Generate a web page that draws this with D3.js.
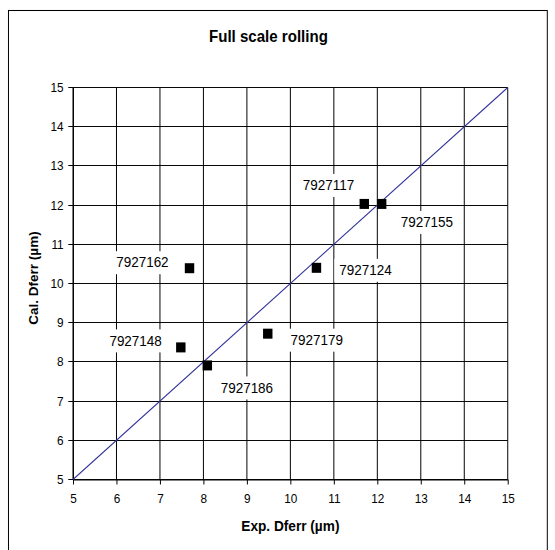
<!DOCTYPE html>
<html>
<head>
<meta charset="utf-8">
<script src="https://cdn.jsdelivr.net/npm/d3@7"></script>
<style>
  html, body { margin: 0; padding: 0; background: #fff; }
  svg { display: block; font-family: "Liberation Sans", Arial, sans-serif; }
</style>
</head>
<body>
<svg id="chart" width="555" height="550"></svg>
<script>
// ---- data ----
const sampleIds = ["7927117", "7927155", "7927162", "7927124", "7927148", "7927179", "7927186"];
const expDferr  = [11.70, 12.10, 7.68, 10.60, 7.48, 9.48, 8.09];
const calDferr  = [12.03, 12.03, 10.39, 10.40, 8.37, 8.72, 7.91];
const lineX = [5, 15];
const lineY = [5, 15];
const tickValues = [5, 6, 7, 8, 9, 10, 11, 12, 13, 14, 15];
const titleText = "Full scale rolling";
const xTitle = "Exp. Dferr (µm)";
const yTitle = "Cal. Dferr (µm)";

// ---- layout (label offsets in px, relative to marker) ----
const labelOffsets = [[-38, -19], [48, 18], [-50, -6], [52, 2], [-48, -7], [52, 6], [42, 22]];

const svgRoot = d3.select("#chart");
// the chart is laid out on a slightly wider canvas and squeezed horizontally to 555px
const squeeze = 0.942;
const svg = svgRoot.append("g").attr("transform", `scale(${squeeze},1)`);

const pLeft = 77.5, pRight = 539, pTop = 87.5, pBottom = 479.5;

const x = d3.scaleLinear().domain([5, 15]).range([pLeft, pRight]);
const y = d3.scaleLinear().domain([5, 15]).range([pBottom, pTop]);

// outer chart border
svg.append("rect")
  .attr("x", 9).attr("y", 10.5).attr("width", 572).attr("height", 560)
  .attr("fill", "#fff").attr("stroke", "#000").attr("stroke-width", 1.05);

// title
svg.append("text")
  .attr("x", 285).attr("y", 42.5)
  .attr("text-anchor", "middle")
  .attr("font-size", 16).attr("font-weight", "bold")
  .text(titleText);

// gridlines
const grid = svg.append("g");
grid.selectAll("line.vx").data(tickValues).enter().append("line")
  .attr("x1", d => x(d)).attr("x2", d => x(d))
  .attr("y1", pTop).attr("y2", pBottom)
  .attr("stroke", "#000").attr("stroke-width", 1.05);
grid.selectAll("line.hy").data(tickValues).enter().append("line")
  .attr("shape-rendering", "crispEdges")
  .attr("y1", d => Math.round(y(d) - 0.5) + 0.5).attr("y2", d => Math.round(y(d) - 0.5) + 0.5)
  .attr("x1", pLeft).attr("x2", pRight)
  .attr("stroke", "#000").attr("stroke-width", 1);

// axes
const xAxis = d3.axisBottom(x).tickValues(tickValues).tickSize(5).tickSizeOuter(0).tickPadding(10).tickFormat(d3.format("d"));
const yAxis = d3.axisLeft(y).tickValues(tickValues).tickSize(5).tickSizeOuter(0).tickPadding(5).tickFormat(d3.format("d"));

const gx = svg.append("g").attr("transform", `translate(0,${pBottom})`).call(xAxis);
const gy = svg.append("g").attr("transform", `translate(${pLeft},0)`).call(yAxis);
[gx, gy].forEach(g => {
  g.select(".domain").attr("stroke", "#000").attr("stroke-width", 1.05);
  g.selectAll(".tick line").attr("stroke", "#000").attr("stroke-width", 1.05);
  g.selectAll("text").attr("font-size", 12.5).attr("fill", "#000")
    .attr("font-family", "'Liberation Sans', Arial, sans-serif");
});
gy.selectAll(".tick").attr("transform", d => `translate(0,${Math.round(y(d) - 0.5) + 0.5})`);

// axis titles
svg.append("text")
  .attr("x", (pLeft + pRight) / 2).attr("y", 531.5)
  .attr("text-anchor", "middle")
  .attr("font-size", 14.5).attr("font-weight", "bold")
  .text(xTitle);
svg.append("text")
  .attr("transform", `translate(40.5,278) rotate(-90)`)
  .attr("text-anchor", "middle")
  .attr("font-size", 13.5).attr("font-weight", "bold")
  .text(yTitle);

// diagonal 1:1 line
const lineData = lineX.map((v, i) => [v, lineY[i]]);
svg.append("path")
  .datum(lineData)
  .attr("d", d3.line().x(d => x(d[0])).y(d => y(d[1])))
  .attr("fill", "none").attr("stroke", "#333399").attr("stroke-width", 1.1);

// points
const pts = sampleIds.map((id, i) => ({ id, ex: expDferr[i], cal: calDferr[i], off: labelOffsets[i] }));
svg.selectAll("rect.pt").data(pts).enter().append("rect")
  .attr("x", d => x(d.ex) - 5).attr("y", d => y(d.cal) - 5)
  .attr("width", 10).attr("height", 10).attr("fill", "#000");

// labels with white boxes
const lab = svg.selectAll("g.lab").data(pts).enter().append("g")
  .attr("transform", d => `translate(${x(d.ex) + d.off[0]},${y(d.cal) + d.off[1]})`);
lab.append("rect")
  .attr("x", -33).attr("y", -11).attr("width", 66).attr("height", 23)
  .attr("fill", "#fff");
lab.append("text")
  .attr("text-anchor", "middle").attr("dy", "0.36em")
  .attr("font-size", 14.3).attr("fill", "#000")
  .text(d => d.id);
</script>
</body>
</html>
